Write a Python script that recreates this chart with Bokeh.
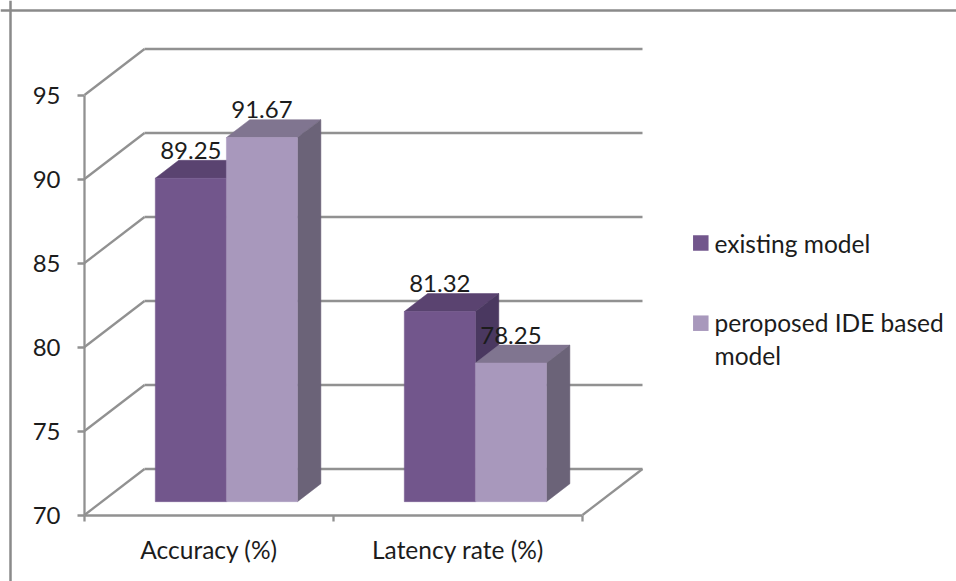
from bokeh.core.properties import value
from bokeh.embed import file_html
from bokeh.models import ColumnDataSource, FixedTicker, LinearAxis, Range1d, Span
from bokeh.plotting import figure
from bokeh.resources import INLINE

categories = ["Accuracy (%)", "Latency rate (%)"]
series_names = ["existing model", "peroposed IDE based\nmodel"]
existing_model = [89.25, 81.32]
proposed_model = [91.67, 78.25]
value_ticks = [70, 75, 80, 85, 90, 95]

FONT = "Lato"
TEXT = "#1c1c1c"
GRID = "#919191"
GRID_W = 2.3
# face, top, side shades per series
SHADES = [("#72568C", "#5A4370", "#4A3860"), ("#A898BC", "#807590", "#6B6378")]

W, H = 956, 581
PX_X, PX_Y = 249.0, 16.8          # pixels per category / per value unit
ORIGIN_PX = (84.0, 514.5)         # where category 0, value 70 lands

# oblique depth of the plot box, in data units
DX, DY = 60 / PX_X, 46 / PX_Y
D0, D1 = 0.29, 0.68               # depth span of the bars inside the box
BAR_W = 0.2855
VMIN, VMAX = value_ticks[0], value_ticks[-1]
XMAX = len(categories)
LABEL_SHIFT = -10                 # lifts data labels onto their baseline
LEGEND_SHIFT = -8                 # same for the legend lines


def proj(x, v, d):
    """Oblique projection of (category position, value, depth)."""
    return x + d * DX, v + d * DY


def px_x(sx):
    return (sx - ORIGIN_PX[0]) / PX_X


def px_y(sy):
    return VMIN + (ORIGIN_PX[1] - sy) / PX_Y


p = figure(
    width=W, height=H, output_backend="svg", toolbar_location=None,
    x_range=Range1d(px_x(0), px_x(W)),
    y_range=Range1d(px_y(H), px_y(0)),
    x_axis_location=None, y_axis_location=None,
    min_border=0, min_border_left=0, min_border_right=0, min_border_top=0, min_border_bottom=0,
    outline_line_color=None, background_fill_color="white",
)
p.grid.visible = False

# chart frame: top and left edges only
p.add_layout(Span(location=H - 10, location_units="screen", dimension="width", line_color="#8a8a8a", line_width=2.5))
p.add_layout(Span(location=10, location_units="screen", dimension="height", line_color="#8a8a8a", line_width=2.5))

# back wall, side wall and floor lines
xs, ys = [], []
for t in value_ticks:
    bx, by = proj(0, t, 1)
    ex, ey = proj(XMAX, t, 1)
    xs += [[0, bx], [bx, ex]]
    ys += [[t, by], [by, ey]]
fx, fy = proj(XMAX, VMIN, 1)
xs.append([XMAX, fx])
ys.append([VMIN, fy])
p.multi_line(xs, ys, line_color=GRID, line_width=GRID_W)

# axes pinned to the front edges of the box
yax = LinearAxis(
    fixed_location=0, bounds=(VMIN, VMAX), ticker=FixedTicker(ticks=value_ticks),
    axis_line_color=GRID, axis_line_width=GRID_W,
    major_tick_line_color=GRID, major_tick_line_width=GRID_W, major_tick_in=0, major_tick_out=7,
    minor_tick_line_color=None,
    major_label_text_font=FONT, major_label_text_font_size="24px",
    major_label_text_color=TEXT, major_label_standoff=17,
)
p.add_layout(yax, "left")
xax = LinearAxis(
    fixed_location=VMIN, bounds=(0, XMAX),
    ticker=FixedTicker(ticks=[i + 0.5 for i in range(XMAX)], minor_ticks=list(range(XMAX + 1))),
    major_label_overrides={i + 0.5: c for i, c in enumerate(categories)},
    axis_line_color=GRID, axis_line_width=GRID_W,
    major_tick_line_color=None,
    minor_tick_line_color=GRID, minor_tick_line_width=GRID_W, minor_tick_in=0, minor_tick_out=6,
    major_label_text_font=FONT, major_label_text_font_size="24.5px",
    major_label_text_color=TEXT, major_label_standoff=14,
)
p.add_layout(xax, "below")

# bars, left to right so nearer faces cover neighbouring sides
label_x, label_y, label_text = [], [], []
for i in range(len(categories)):
    for s, vals in enumerate([existing_model, proposed_model]):
        v = vals[i]
        left = i + 0.5 + (s - 1) * BAR_W
        right = left + BAR_W
        face, top, side = SHADES[s]
        corners = [proj(left, v, D0), proj(right, v, D0), proj(right, v, D1), proj(left, v, D1)]
        p.patch([c[0] for c in corners], [c[1] for c in corners], fill_color=top, line_color=top, line_width=0.5)
        corners = [proj(right, VMIN, D0), proj(right, v, D0), proj(right, v, D1), proj(right, VMIN, D1)]
        p.patch([c[0] for c in corners], [c[1] for c in corners], fill_color=side, line_color=side, line_width=0.5)
        l, b = proj(left, VMIN, D0)
        r, t = proj(right, v, D0)
        p.quad(left=[l], right=[r], bottom=[b], top=[t], fill_color=face, line_color=face, line_width=0.5)
        label_x.append((left + right) / 2 + D0 * DX)
        label_y.append(v + D1 * DY)
        label_text.append(f"{v:.2f}")

p.text(
    x="x", y="y", text="t", source=ColumnDataSource(dict(x=label_x, y=label_y, t=label_text)),
    text_font=value(FONT), text_font_size="24px", text_color=TEXT,
    text_align="center", text_baseline="alphabetic", y_offset=LABEL_SHIFT,
)

# legend, positioned in page pixels to the right of the box
swatch_y = [242.5, 322.7]
text_baselines = [[250.7], [330.0, 363.0]]
for name, (face, _, _), sy, bases in zip(series_names, SHADES, swatch_y, text_baselines):
    p.scatter([px_x(700.3)], [px_y(sy)], marker="square", size=15.5, fill_color=face, line_color=None)
    for line, base in zip(name.split("\n"), bases):
        p.text(
            x=[px_x(714)], y=[px_y(base)], text=[line], text_font=value(FONT), text_font_size="24.5px",
            text_color=TEXT, text_align="left", text_baseline="alphabetic", y_offset=LEGEND_SHIFT,
        )

open("out.html", "w").write(file_html(p, INLINE))
